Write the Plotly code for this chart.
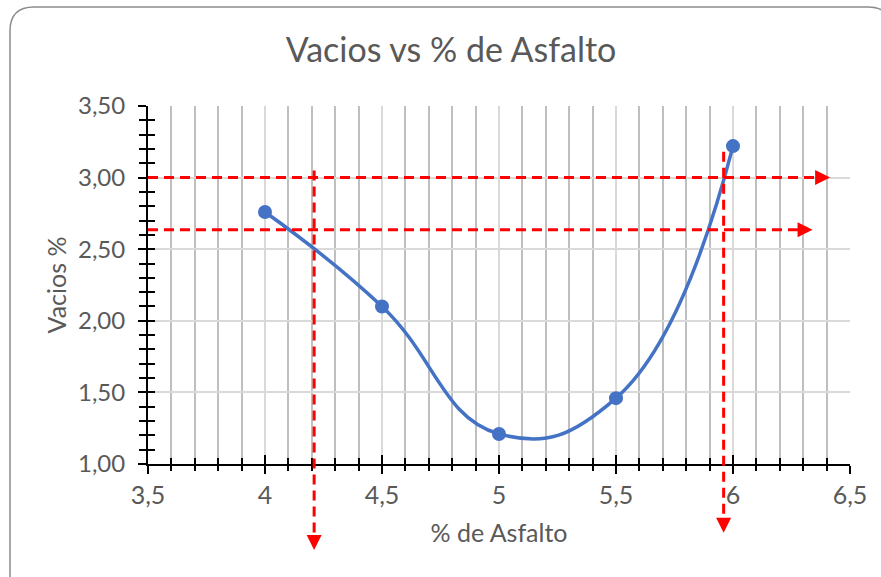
import plotly.graph_objects as go

# Porcentaje de asfalto y vacíos medidos
asfalto = [4.0, 4.5, 5.0, 5.5, 6.0]
vacios = [2.76, 2.10, 1.21, 1.46, 3.22]

x_rango = [3.5, 6.5]
y_rango = [1.0, 3.5]

# Líneas guía horizontales: nivel de vacíos y abscisa de la punta de flecha
guia_h_y = [3.00, 2.635]
guia_h_fin = [6.415, 6.34]
# Líneas guía verticales: % de asfalto, inicio y punta (bajo el eje)
guia_v_x = [4.21, 5.96]
guia_v_ini = [3.05, 3.18]
guia_v_fin = [0.40, 0.52]

ROJO = "#FF0000"
AZUL = "#4472C4"
GRIS_TXT = "#595959"
FUENTE = "Lato"

W, H = 881, 577
M = dict(l=148, r=31, t=106, b=113)


def px(v):
    return (v - x_rango[0]) / (x_rango[1] - x_rango[0])


def py(v):
    return (v - y_rango[0]) / (y_rango[1] - y_rango[0])


def pix_x(p):
    return (p - M["l"]) / (W - M["l"] - M["r"])


def pix_y(p):
    return (H - M["b"] - p) / (H - M["t"] - M["b"])


fig = go.Figure()

fig.add_trace(go.Scatter(
    x=asfalto, y=vacios, mode="lines+markers",
    line=dict(color=AZUL, width=3.5, shape="spline", smoothing=1.3),
    marker=dict(color=AZUL, size=14),
    showlegend=False, hoverinfo="x+y",
))
# Traza vacía para los ejes superpuestos (marcas hacia dentro)
fig.add_trace(go.Scatter(x=[], y=[], xaxis="x2", yaxis="y2",
                         showlegend=False, hoverinfo="skip"))

DASH = "10px,6px"
shapes = []
annotations = []
for y, xf in zip(guia_h_y, guia_h_fin):
    shapes.append(dict(type="line", xref="paper", yref="paper",
                       x0=px(x_rango[0]), x1=px(xf) - 0.01, y0=py(y), y1=py(y),
                       line=dict(color=ROJO, width=3, dash=DASH)))
    annotations.append(dict(xref="paper", yref="paper", x=px(xf), y=py(y),
                            ax=-14, ay=0, text="", showarrow=True,
                            arrowhead=2, arrowsize=1, arrowwidth=3,
                            arrowcolor=ROJO, standoff=0))
for x, y0, y1 in zip(guia_v_x, guia_v_ini, guia_v_fin):
    shapes.append(dict(type="line", xref="paper", yref="paper",
                       x0=px(x), x1=px(x), y0=py(y0), y1=py(y1) + 0.02,
                       line=dict(color=ROJO, width=3, dash=DASH)))
    annotations.append(dict(xref="paper", yref="paper", x=px(x), y=py(y1),
                            ax=0, ay=-14, text="", showarrow=True,
                            arrowhead=2, arrowsize=1, arrowwidth=3,
                            arrowcolor=ROJO, standoff=0))

# Marco redondeado del área del gráfico
L, T, R, B, r = 10, 7, 892, 600, 24
borde = (f"M {pix_x(L)},{pix_y(B)} L {pix_x(L)},{pix_y(T + r)} "
         f"Q {pix_x(L)},{pix_y(T)} {pix_x(L + r)},{pix_y(T)} "
         f"L {pix_x(R - r)},{pix_y(T)} Q {pix_x(R)},{pix_y(T)} {pix_x(R)},{pix_y(T + r)} "
         f"L {pix_x(R)},{pix_y(B)}")
shapes.append(dict(type="path", xref="paper", yref="paper", path=borde,
                   line=dict(color="#8C8C8C", width=1.5), layer="below"))

eje_comun = dict(showline=True, linecolor="black", linewidth=2,
                 ticks="outside", ticklen=8, tickwidth=1.5, tickcolor="black",
                 zeroline=False, tickmode="linear", dtick=0.5)

fig.update_layout(
    width=W, height=H, margin=M,
    paper_bgcolor="white", plot_bgcolor="white",
    separators=", ",
    font=dict(family=FUENTE, color=GRIS_TXT),
    title=dict(text="Vacios vs % de Asfalto", x=451 / W, xanchor="center",
               y=1 - 50 / H, yanchor="middle",
               font=dict(size=34, color=GRIS_TXT, family=FUENTE)),
    xaxis=dict(
        **eje_comun, range=x_rango, tick0=3.5,
        showgrid=True, gridcolor="#D9D9D9", gridwidth=1.5,
        minor=dict(dtick=0.1, tick0=3.5, ticks="outside", ticklen=5,
                   tickwidth=1.5, tickcolor="black",
                   showgrid=True, gridcolor="#BFBFBF", gridwidth=1.5),
        tickfont=dict(size=25, color=GRIS_TXT), ticklabelstandoff=0,
        title=dict(text="% de Asfalto", font=dict(size=25, color=GRIS_TXT),
                   standoff=16),
    ),
    yaxis=dict(
        **eje_comun, range=y_rango, tick0=1.0, tickformat=".2f",
        showgrid=True, gridcolor="#D9D9D9", gridwidth=1.5,
        minor=dict(dtick=0.1, tick0=1.0, ticks="outside", ticklen=7,
                   tickwidth=1.5, tickcolor="black", showgrid=False),
        tickfont=dict(size=24, color=GRIS_TXT), ticklabelstandoff=8,
        title=dict(text="Vacios %", font=dict(size=25, color=GRIS_TXT),
                   standoff=4),
    ),
    xaxis2=dict(overlaying="x", anchor="y", side="bottom", range=x_rango,
                tickmode="linear", tick0=3.5, dtick=0.5, ticks="inside",
                ticklen=9, tickwidth=1.5, tickcolor="black",
                showticklabels=False, showgrid=False, showline=False,
                zeroline=False,
                minor=dict(dtick=0.1, tick0=3.5, ticks="inside", ticklen=6,
                           tickwidth=1.5, tickcolor="black", showgrid=False)),
    yaxis2=dict(overlaying="y", anchor="x", side="left", range=y_rango,
                tickmode="linear", tick0=1.0, dtick=0.5, ticks="inside",
                ticklen=7, tickwidth=1.5, tickcolor="black",
                showticklabels=False, showgrid=False, showline=False,
                zeroline=False,
                minor=dict(dtick=0.1, tick0=1.0, ticks="inside", ticklen=7,
                           tickwidth=1.5, tickcolor="black", showgrid=False)),
    shapes=shapes,
    annotations=annotations,
)

fig.write_html("out.html")
